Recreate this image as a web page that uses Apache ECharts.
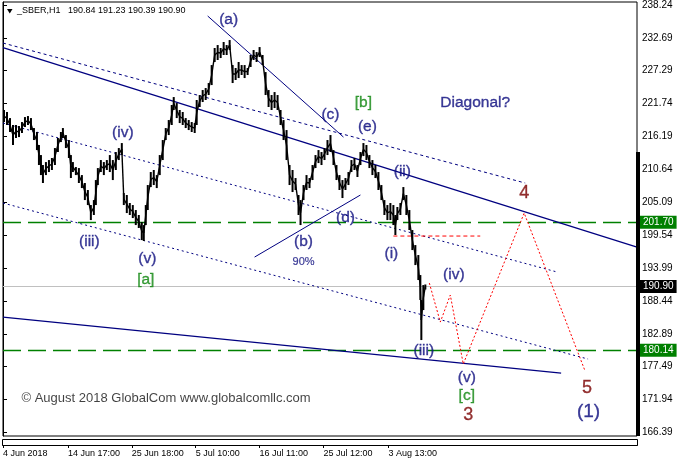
<!DOCTYPE html>
<html><head><meta charset="utf-8">
<script src="https://cdn.jsdelivr.net/npm/echarts@6/dist/echarts.min.js"></script>
<style>html,body{margin:0;padding:0;background:#fff}#c{width:678px;height:466px}</style>
</head><body><div id="c"></div>
<script>
// ---- data (bar index = hourly bar number, prices in RUB) ----
const barIdx = [1,4,7,10,13,16,19,22,25,28,31,34,36,38,40,43,46,49,52,55,58,60,63,66,68,70,73,76,79,82,85,88,91,93,95,98,101,104,107,110,113,116,119,121,124,127,130,133,136,139,141,143,145,148,151,154,157,160,163,166,169,171,174,177,180,183,186,189,192,194,197,200,203,206,209,212,215,218,221,224,227,230,233,236,239,242,245,248,251,254,257,260,263,266,269,272,275,278,281,284,287,290,293,296,298,301,304,307,310,313,316,319,322,325,328,331,334,337,340,343,346,349,352,355,358,361,364,367,370,373,376,379,382,385,388,391,393,395,398,401,404,407,410,413,416,418,419,421,423];
const barHigh = [220.62,220.28,219.26,218.09,218.09,217.92,218.59,219.43,219.60,219.26,217.58,216.91,214.72,213.03,211.35,211.85,212.19,212.53,214.21,215.90,216.91,217.58,216.40,215.56,213.03,211.85,211.01,210.84,209.66,208.32,207.14,204.61,205.45,208.82,210.84,212.19,211.85,212.19,213.03,212.19,213.54,214.21,215.05,206.63,206.30,204.95,204.61,203.77,202.93,201.75,201.24,204.61,207.98,210.17,210.51,209.66,213.03,215.56,217.58,218.93,221.46,222.80,221.79,220.62,220.28,219.26,218.93,218.59,218.42,222.30,223.14,223.98,224.32,225.16,228.19,231.06,231.56,231.06,232.07,231.56,232.40,228.19,227.69,228.70,228.19,228.19,227.69,229.88,230.72,230.38,231.22,229.88,227.01,223.98,223.14,223.64,223.14,220.62,218.93,217.24,211.35,210.51,209.16,206.30,205.45,207.98,209.66,209.16,211.35,213.03,213.87,213.54,214.21,215.56,216.40,213.87,211.35,209.66,208.82,209.16,210.17,212.19,212.53,211.35,213.54,215.05,214.72,213.03,212.19,211.35,210.17,207.98,205.45,204.61,204.95,204.61,202.93,204.28,204.95,207.64,206.30,203.77,200.40,197.87,196.19,192.82,188.61,191.13,191.23];
const barLow = [218.59,218.09,216.91,214.72,215.90,216.06,216.74,217.75,218.09,217.24,215.56,213.87,211.35,209.66,208.32,209.66,210.17,210.51,211.35,213.54,215.22,215.90,214.21,212.53,209.16,210.17,209.66,208.32,207.47,205.45,204.61,202.08,202.93,204.61,207.98,210.17,209.66,210.51,210.17,208.82,210.51,212.19,213.03,204.61,203.26,202.93,202.42,201.24,200.74,198.71,198.55,201.24,203.77,207.64,207.98,207.47,209.66,212.19,215.56,216.40,218.09,220.62,219.26,218.42,218.09,217.58,217.24,216.91,216.74,218.09,221.12,221.96,222.30,223.14,224.82,228.70,229.04,229.37,229.88,229.88,230.72,225.16,225.67,226.00,226.51,226.00,226.51,227.86,229.04,228.70,229.54,228.19,223.14,221.12,220.62,220.95,220.62,218.09,215.56,212.19,207.98,206.80,207.14,202.93,201.24,205.45,207.14,207.47,208.82,210.84,211.68,211.35,212.19,213.03,213.54,211.35,208.82,207.14,205.79,207.14,207.98,210.17,210.51,209.33,211.35,212.86,212.19,210.84,209.66,209.16,207.14,205.45,202.93,202.08,202.08,201.24,199.56,202.08,202.93,205.45,202.93,200.40,197.03,194.50,191.98,188.61,181.87,186.92,190.39];

const yTicks = [166.39,171.94,177.49,182.89,188.44,193.99,199.54,205.09,210.64,216.19,221.74,227.29,232.69,238.24];
const xTickIdx = [0,65,129,193,257,321,386];
const xTickText = ['4 Jun 2018','14 Jun 17:00','25 Jun 18:00','5 Jul 10:00','16 Jul 11:00','25 Jul 12:00','3 Aug 13:00'];

const levelHigh = 201.70;
const levelLow = 180.14;
const lastPrice = 190.90;
const headerSymbol = '_SBER,H1';
const headerOHLC = [190.84, 191.23, 190.39, 190.90];

// trend lines: [barIndex, price]
const upperChannel = [[0,231.14],[635,197.54]];
const upperDashed  = [[0,231.90],[523,208.32]];
const midDotted    = [[0,218.42],[555,193.33]];
const lowDotted    = [[0,204.95],[586,178.67]];
const lowerChannel = [[0,185.74],[559,176.31]];
const lineAC       = [[205,236.45],[341,216.06]];
const lineBD       = [[252,195.85],[358,206.30]];
const projection   = [[427,191.47],[438,184.90],[448,189.45],[461,177.83],[522,203.26],[583,176.65]];
const waveILevel   = [[391,199.39],[478,199.39]];

// annotations: [barIndex, price, text]
const navyLabels = [
  [226,235.77,'(a)'],[328,219.77,'(c)'],[365,217.84,'(e)'],[400,210.17,'(ii)'],
  [120,216.74,'(iv)'],[86.5,198.47,'(iii)'],[301,198.47,'(b)'],[343,202.42,'(d)'],
  [144.5,195.52,'(v)'],[389,196.44,'(i)'],[451.5,192.82,'(iv)'],[421.5,180.02,'(iii)'],
  [464.5,175.47,'(v)'],[473,221.79,'Diagonal?']
];
const greenLabels = [[361,221.79,'[b]'],[143,191.98,'[a]'],[464.5,172.44,'[c]']];
const redLabels = [[466,169.24,'3'],[522,206.63,'4'],[585,173.79,'5']];
const degreeLabels = [[586.5,169.83,'(1)']];
const noteLabels = [[301,195.10,'90%']];
const copyrightLabel = [[18,172.10,'\u00A9 August 2018 GlobalCom www.globalcomllc.com']];

// ---- chart ----
const FONT = "'Liberation Sans', Arial, sans-serif";
const NAVY = '#000080';
const LABEL_BLUE = '#0c0c7e';
const chart = echarts.init(document.getElementById('c'), null, {renderer:'canvas'});

function trend(data, type, width, color) {
  return {type:'line', data:data, showSymbol:false, silent:true, animation:false, z:3,
    lineStyle:{color:color||NAVY, width:width, type:type}};
}
function labels(data, color, size, pos, bw) {
  return {type:'scatter', data:data, symbolSize:1, silent:true, animation:false, z:6,
    itemStyle:{color:'rgba(0,0,0,0)'},
    label:{show:true, position:pos||'inside', distance:0, formatter:p=>p.data[2], color:color, fontSize:size, fontFamily:FONT,
      textBorderColor:color, textBorderWidth:(bw===undefined?0.35:bw)}};
}
function priceTag(v, bg, lineColor, lineType, lw) {
  return {yAxis:v, lineStyle:{color:lineColor, type:lineType, width:lw},
    label:{show:true, position:'end', distance:3, formatter:v.toFixed(2), color:'#fff', backgroundColor:bg,
      padding:[2,3,1,3], fontSize:10, fontFamily:FONT}};
}

chart.setOption({
  animation:false,
  backgroundColor:'#fff',
  grid:{left:2, top:2, right:41, bottom:30, show:true, borderColor:'#000', borderWidth:1, containLabel:false},
  xAxis:{type:'value', min:0, max:635, offset:9,
    axisLine:{show:true, lineStyle:{color:'#000', width:1}},
    axisTick:{show:true, customValues:xTickIdx, length:3, lineStyle:{color:'#000'}},
    axisLabel:{customValues:xTickIdx, formatter:v=>xTickText[xTickIdx.indexOf(v)], align:'left', margin:4,
      fontSize:9, color:'#000', fontFamily:FONT, hideOverlap:false},
    splitLine:{show:false}},
  yAxis:{type:'value', position:'right', min:165.71, max:238.81,
    axisLine:{show:true, lineStyle:{color:'#000'}},
    axisTick:{show:true, customValues:yTicks, length:4, lineStyle:{color:'#000'}},
    axisLabel:{customValues:yTicks, formatter:v=>v.toFixed(2), margin:5, fontSize:10, color:'#000', fontFamily:FONT},
    splitLine:{show:false}},
  graphic:[
    {type:'rect', shape:{x:2.5, y:439.5, width:635, height:6}, style:{fill:'none', stroke:'#000', lineWidth:1}, silent:true},
    {type:'rect', shape:{x:636, y:152, width:4, height:284}, style:{fill:'#000'}, silent:true, z:5},
    {type:'polygon', shape:{points:[[7,9],[12.5,9],[9.75,13.5]]}, style:{fill:'#000'}, silent:true},
    {type:'text', x:17, y:10.5, style:{text:headerSymbol, font:'9px '+FONT, fill:'#000', textVerticalAlign:'middle'}, silent:true},
    {type:'text', x:68, y:10.5, style:{text:headerOHLC.map(v=>v.toFixed(2)).join(' '), font:'9px '+FONT, fill:'#000', textVerticalAlign:'middle'}, silent:true}
  ],
  series:[
    {type:'line', data:[], silent:true, animation:false,
      markLine:{symbol:'none', silent:true, animation:false, z:2, data:[
        priceTag(lastPrice, '#000', '#c0c0c0', 'solid', 1),
        priceTag(levelHigh, '#008000', '#008000', [18,7], 1.4),
        priceTag(levelLow, '#008000', '#008000', [18,7], 1.4)
      ]}},
    trend(upperChannel, 'solid', 1.3),
    trend(upperDashed, [3,3], 1),
    trend(midDotted, [2,3], 1),
    trend(lowDotted, [2,3], 1),
    trend(lowerChannel, 'solid', 1.3),
    trend(lineAC, 'solid', 1),
    trend(lineBD, 'solid', 1),
    trend(projection, [2,2], 1, '#ff0000'),
    trend(waveILevel, [4,3], 1, '#ff0000'),
    {type:'custom', silent:true, animation:false, z:4,
      data:barIdx.map((x,i)=>[x, barHigh[i], barLow[i]]),
      encode:{x:0, y:[1,2]},
      renderItem:(params, api)=>{
        const i = params.dataIndex;
        const p1 = api.coord([api.value(0), api.value(1)]);
        const p2 = api.coord([api.value(0), api.value(2)]);
        const children = [{type:'rect', shape:{x:p1[0]-1, y:p1[1], width:2, height:Math.max(1, p2[1]-p1[1])}, style:{fill:'#000'}}];
        if (i < barIdx.length - 1) {
          const a = api.coord([barIdx[i], (barHigh[i]+barLow[i])/2]);
          const b = api.coord([barIdx[i+1], (barHigh[i+1]+barLow[i+1])/2]);
          children.push({type:'line', shape:{x1:a[0], y1:a[1], x2:b[0], y2:b[1]}, style:{stroke:'#000', lineWidth:1.4}});
        }
        return {type:'group', children:children};
      }},
    labels(navyLabels, LABEL_BLUE, 15.5),
    labels(greenLabels, '#118811', 15.5),
    labels(redLabels, '#7a0000', 18),
    labels(degreeLabels, LABEL_BLUE, 19),
    labels(noteLabels, LABEL_BLUE, 11, 'inside', 0.2),
    labels(copyrightLabel, '#111', 13, 'right', 0)
  ]
});
</script></body></html>
